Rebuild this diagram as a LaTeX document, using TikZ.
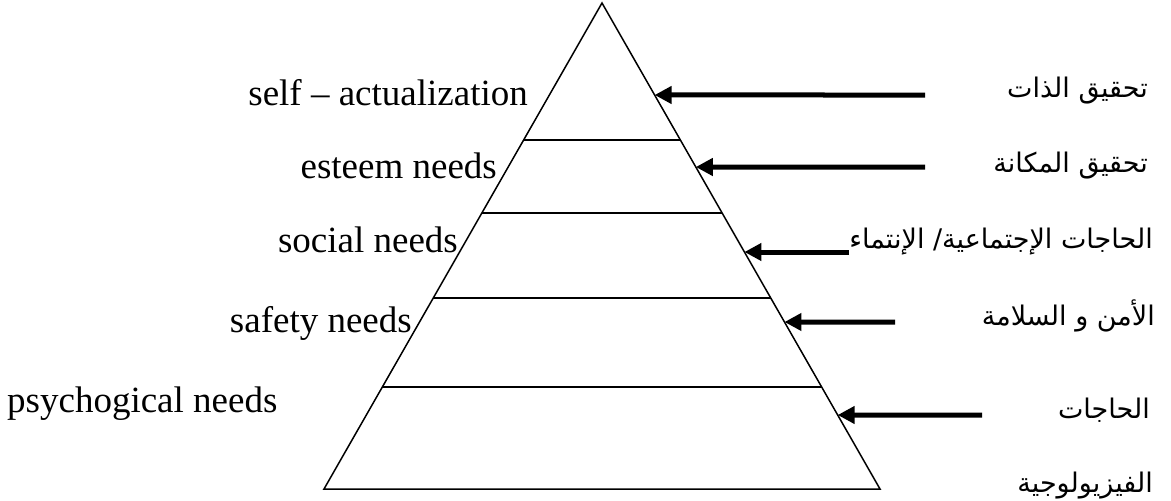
\documentclass[tikz,border=0pt]{standalone}
\usepackage{fontspec}
\setmainfont{Liberation Serif}
\newfontfamily\arabicfont[Script=Arabic]{DejaVu Sans}
\TeXXeTstate=1
\usetikzlibrary{calc,arrows.meta}
\tikzset{
  side/.style={line width=1.5pt, line join=miter},
  level-line/.style={line width=1.5pt},
  need-en/.style={inner sep=0pt, font=\fontsize{37}{40}\selectfont},
  need-ar/.style={inner sep=0pt, font=\arabicfont\fontsize{27}{32}\selectfont},
  need-arrow/.style={line width=5pt, -{Triangle[length=17pt,width=17pt]}}
}

\begin{document}
\begin{tikzpicture}[x=1pt,y=-1pt]
  \useasboundingbox (0,0) rectangle (1171,501);
  % Pyramid
  \coordinate (apex) at (602,3);
  \coordinate (base-l) at (324,489);
  \coordinate (base-r) at (880,489);
  \draw[side] (apex) -- (base-r) -- (base-l) -- cycle;
  % Level lines
  \foreach \y in {140,213,298,387}
    \draw[level-line] ($(apex)!{(\y-3)/486}!(base-l)$) -- ($(apex)!{(\y-3)/486}!(base-r)$);

  % English labels
  \node[need-en, anchor=base east] (self-en) at (528,105) {self – actualization};
  \node[need-en, anchor=base east] (esteem-en) at (497,178) {esteem needs};
  \node[need-en, anchor=base east] (social-en) at (458,252) {social needs};
  \node[need-en, anchor=base east] (safety-en) at (412,332) {safety needs};
  \node[need-en, anchor=base west] (phys-en) at (7,412) {psychogical needs};

  % Arabic labels
  \node[need-ar, anchor=base east] (self-ar) at (1148,97) {\beginR تحقيق الذات\endR};
  \node[need-ar, anchor=base east] (esteem-ar) at (1148,172) {\beginR تحقيق المكانة\endR};
  \node[need-ar, anchor=base east] (social-ar) at (1153,248) {\beginR الحاجات الإجتماعية/ الإنتماء\endR};
  \node[need-ar, anchor=base east] (safety-ar) at (1155,325) {\beginR الأمن و السلامة\endR};
  \node[need-ar, anchor=base east] (phys-ar) at (1150,418) {\beginR الحاجات\endR};
  \node[need-ar, anchor=base east] (phys-ar2) at (1153,492) {\beginR الفيزيولوجية\endR};

  % Arrow ends
  \coordinate (tip-self) at ($(apex)!{92/486}!(base-r)$);
  \coordinate (tip-esteem) at ($(apex)!{164/486}!(base-r)$);
  \coordinate (tip-social) at ($(apex)!{249/486}!(base-r)$);
  \coordinate (tip-safety) at ($(apex)!{319/486}!(base-r)$);
  \coordinate (tip-phys) at ($(apex)!{412/486}!(base-r)$);
  \coordinate (tail-self) at (925,95);
  \coordinate (tail-esteem) at (925,167);
  \coordinate (tail-safety) at (895,322);
  \coordinate (tail-phys) at (982,415);

  % Arrows
  \draw[need-arrow] (tail-self) -- (tip-self);
  \draw[need-arrow] (tail-esteem) -- (tip-esteem);
  \draw[need-arrow] (social-ar.west |- tip-social) -- (tip-social);
  \draw[need-arrow] (tail-safety) -- (tip-safety);
  \draw[need-arrow] (tail-phys) -- (tip-phys);
\end{tikzpicture}
\end{document}
